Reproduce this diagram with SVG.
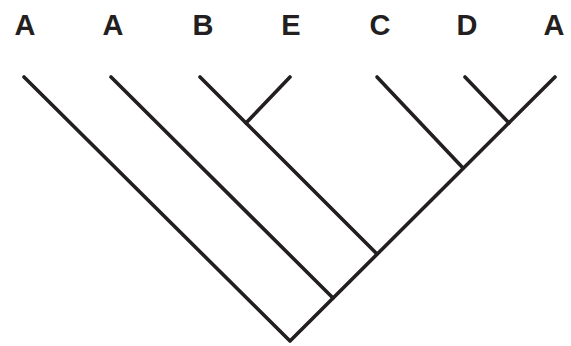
<svg xmlns="http://www.w3.org/2000/svg" width="571" height="346" viewBox="0 0 571 346">
<style>
.lbl{font-family:"Liberation Sans",Arial,sans-serif;font-weight:bold;font-size:29px;fill:#231f20;text-anchor:middle}
.br{stroke:#231f20;stroke-width:3.6;fill:none;stroke-linecap:round;stroke-linejoin:round}
</style>
<rect width="571" height="346" fill="#ffffff"/>
<g id="taxon-A1"><text class="lbl" x="25" y="35">A</text></g>
<g id="taxon-A2"><text class="lbl" x="113" y="35">A</text></g>
<g id="taxon-B"><text class="lbl" x="203" y="35">B</text></g>
<g id="taxon-E"><text class="lbl" x="291" y="35">E</text></g>
<g id="taxon-C"><text class="lbl" x="380" y="35">C</text></g>
<g id="taxon-D"><text class="lbl" x="467" y="35">D</text></g>
<g id="taxon-A3"><text class="lbl" x="554" y="35">A</text></g>
<g id="connectors">
<path class="br" d="M24 77 L290 341 L555 77"/>
<path class="br" d="M111 77 L333 298"/>
<path class="br" d="M200 77 L377 254"/>
<path class="br" d="M290 77 L246 123"/>
<path class="br" d="M377 77 L463 168"/>
<path class="br" d="M465 77 L509 123"/>
</g>
</svg>
